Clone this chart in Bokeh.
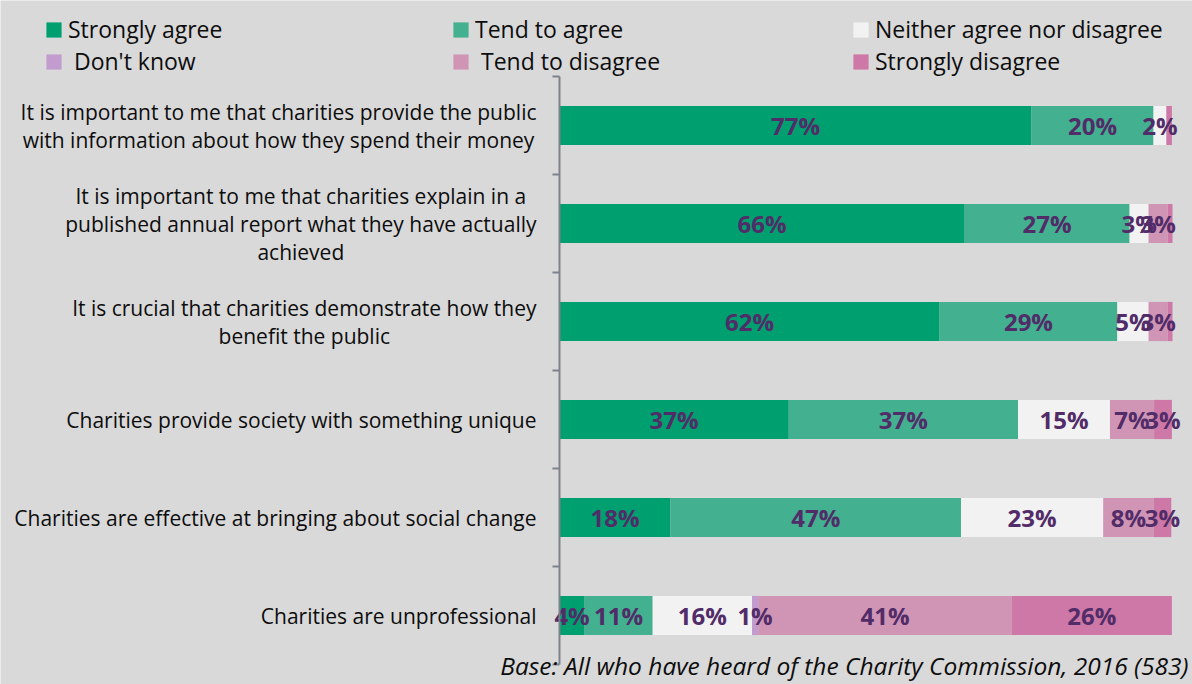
from bokeh.plotting import figure
from bokeh.models import ColumnDataSource, Range1d, Legend, LegendItem, Label
from bokeh.core.properties import value
from bokeh.embed import file_html
from bokeh.resources import INLINE

# ---------------- data ----------------
statements = [
    "It is important to me that charities provide the public\nwith information about how they spend their money",
    "It is important to me that charities explain in a\npublished annual report what they have actually\nachieved",
    "It is crucial that charities demonstrate how they\nbenefit the public",
    "Charities provide society with something unique",
    "Charities are effective at bringing about social change",
    "Charities are unprofessional",
]
series = ["Strongly agree", "Tend to agree", "Neither agree nor disagree",
          "Don't know", "Tend to disagree", "Strongly disagree"]
legend_labels = ["Strongly agree", "Tend to agree", "Neither agree nor disagree",
                 " Don't know", " Tend to disagree", "Strongly disagree"]

strongly_agree    = [77.0, 66.1, 62.0, 37.4, 18.1, 4.1]
tend_to_agree     = [19.9, 26.9, 29.0, 37.4, 47.4, 11.1]
neither           = [2.1, 3.1, 5.1, 15.0, 23.2, 16.2]
dont_know         = [0.0, 0.0, 0.0, 0.0, 0.0, 1.0]
tend_to_disagree  = [0.0, 3.1, 3.1, 7.2, 8.2, 41.4]
strongly_disagree = [0.9, 0.8, 0.8, 2.9, 2.9, 26.1]

colors = ["#009f6f", "#43b08f", "#f2f2f2", "#c39ccf", "#d095b5", "#cd78a6"]
BG = "#d9d9d9"
LABEL_COLOR = "#512c68"
AXIS_COLOR = "#7d828b"
TEXT_COLOR = "#0d0d0d"
FONT = "Open Sans"

values = [strongly_agree, tend_to_agree, neither, dont_know, tend_to_disagree, strongly_disagree]

# ---------------- layout constants ----------------
W, H = 1192, 684
PX_PER_UNIT = 6.13          # pixels per percentage point
X0_PX = 559                 # canvas x of 0%
ROW_PX = 98                 # row pitch
Y0_PX = 125                 # canvas y of first row centre

x_range = Range1d(start=-X0_PX / PX_PER_UNIT, end=(W - X0_PX) / PX_PER_UNIT)
y_range = Range1d(start=(H - Y0_PX) / ROW_PX, end=-Y0_PX / ROW_PX)

p = figure(width=W, height=H, x_range=x_range, y_range=y_range,
           output_backend="svg", toolbar_location=None, title=None,
           x_axis_location=None, y_axis_location=None, min_border=0)
p.grid.visible = False
p.outline_line_color = None
p.background_fill_color = BG
p.border_fill_color = BG

idx = list(range(len(statements)))
data = {"idx": idx, "statement": statements}
for name, vals in zip(series, values):
    data[name] = vals
source = ColumnDataSource(data)

renderers = p.hbar_stack(series, y="idx", height=0.4, color=colors,
                         line_color=None, source=source)

# value labels (centred in each segment)
lx, ly, lt = [], [], []
for i in idx:
    cum = 0.0
    for vals in values:
        v = vals[i]
        if v >= 1.0:
            lx.append(cum + v / 2)
            ly.append(i)
            lt.append(f"{v:.0f}%")
        cum += v
p.text(x="x", y="y", text="t", source=ColumnDataSource(dict(x=lx, y=ly, t=lt)),
       text_align="center", text_baseline="middle", text_font=value(FONT),
       text_font_size="24px", text_font_style="bold", text_color=LABEL_COLOR)

# category labels
cat_x = [-23 / PX_PER_UNIT] * len(statements)
p.text(x="cx", y="idx", text="statement",
       source=ColumnDataSource(dict(cx=cat_x, idx=idx, statement=statements)),
       anchor="center_right", text_align="center", text_baseline="middle",
       text_font=value(FONT), text_font_size="21px", text_color=TEXT_COLOR,
       text_line_height=1.0)

# axis line and ticks
n = len(statements)
bounds = [k - 0.5 for k in range(n + 1)]
p.segment(x0=[0], y0=[bounds[0]], x1=[0], y1=[bounds[-1]], line_color=AXIS_COLOR, line_width=2)
tick = 7 / PX_PER_UNIT
p.segment(x0=[-tick] * len(bounds), y0=bounds, x1=[0] * len(bounds), y1=bounds,
          line_color=AXIS_COLOR, line_width=2)

# legends: three columns of two items
cols = [(0, 3, 44), (1, 4, 451), (2, 5, 851)]
for a, b, xpx in cols:
    leg = Legend(items=[LegendItem(label=legend_labels[a], renderers=[renderers[a]]),
                        LegendItem(label=legend_labels[b], renderers=[renderers[b]])],
                 location=(xpx, 607), orientation="vertical",
                 glyph_width=19, glyph_height=19, label_standoff=5,
                 label_text_font=FONT, label_text_font_size="23px", label_text_color=TEXT_COLOR,
                 spacing=0, padding=0, margin=0,
                 background_fill_alpha=0, border_line_alpha=0)
    p.add_layout(leg, "center")

foot = Label(x=1188, y=3, x_units="screen", y_units="screen",
             text="Base: All who have heard of the Charity Commission, 2016 (583)",
             text_align="right", text_baseline="bottom", text_font=FONT,
             text_font_style="italic", text_font_size="24.5px", text_color=TEXT_COLOR)
p.add_layout(foot)

open("out.html", "w").write(file_html(p, INLINE))
